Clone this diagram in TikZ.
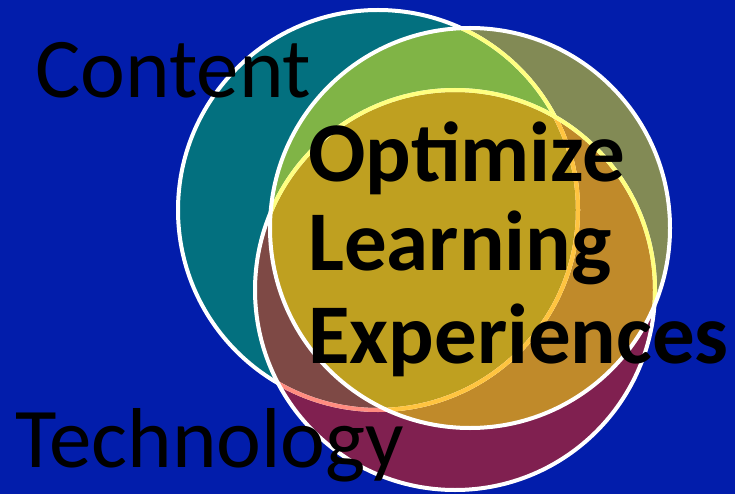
\documentclass[tikz,border=0pt]{standalone}
\usepackage{fontspec}
\setmainfont{Carlito}
\definecolor{bgblue}{HTML}{021DAB}
\definecolor{cteal}{HTML}{03707F}
\definecolor{colive}{HTML}{828A55}
\definecolor{cgreen}{HTML}{80B446}
\definecolor{cgold}{HTML}{BFA020}
\definecolor{corange}{HTML}{C08A2A}
\definecolor{cbrown}{HTML}{7E4945}
\definecolor{cmaroon}{HTML}{802050}
\definecolor{lsalmon}{HTML}{FF8C80}
\definecolor{lyellow}{HTML}{FFFF80}
\definecolor{lamber}{HTML}{FFC440}
\tikzset{
  ring/.style={line width=4pt},
  bigtext/.style={font=\fontsize{85}{90}\selectfont, text=black, inner sep=0pt, anchor=base west},
  boldtext/.style={font=\fontsize{85}{90}\selectfont\bfseries, text=black, inner sep=0pt, anchor=base west}
}
\begin{document}
\begin{tikzpicture}[x=1pt,y=-1pt]
\useasboundingbox (0,0) rectangle (735,494);
\fill[bgblue] (0,0) rectangle (735,494);
\def\CircA{(378,210) circle[radius=200]}
\def\CircB{(470,228) circle[radius=200]}
\def\CircC{(455,290) circle[radius=200]}
% fills
\fill[cteal] \CircA;
\fill[cmaroon] \CircC;
\begin{scope}\clip \CircA; \fill[cbrown] \CircC; \end{scope}
\fill[colive] \CircB;
\begin{scope}\clip \CircB; \fill[cgreen] \CircA; \end{scope}
\begin{scope}\clip \CircB; \fill[corange] \CircC; \end{scope}
\begin{scope}\clip \CircB; \clip \CircA; \fill[cgold] \CircC; \end{scope}
% outline of A
\draw[ring, white] \CircA;
\begin{scope}\clip \CircC; \draw[ring, lsalmon] \CircA; \end{scope}
\begin{scope}\clip \CircB; \draw[ring, lyellow] \CircA; \end{scope}
\begin{scope}\clip \CircB; \clip \CircC; \draw[ring, lamber] \CircA; \end{scope}
% outline of C
\draw[ring, white] \CircC;
\begin{scope}\clip \CircB; \draw[ring, lyellow] \CircC; \end{scope}
% outline of B
\draw[ring, white] \CircB;
% texts
\node[bigtext] (content) at (35,98) {Content};
\node[bigtext] (technology) at (15,467) {Technology};
\node[boldtext] (opt1) at (308,182) {Optimize};
\node[boldtext] (opt2) at (308,270) {Learning};
\node[boldtext] (opt3) at (308,363) {Experiences};
\end{tikzpicture}
\end{document}
